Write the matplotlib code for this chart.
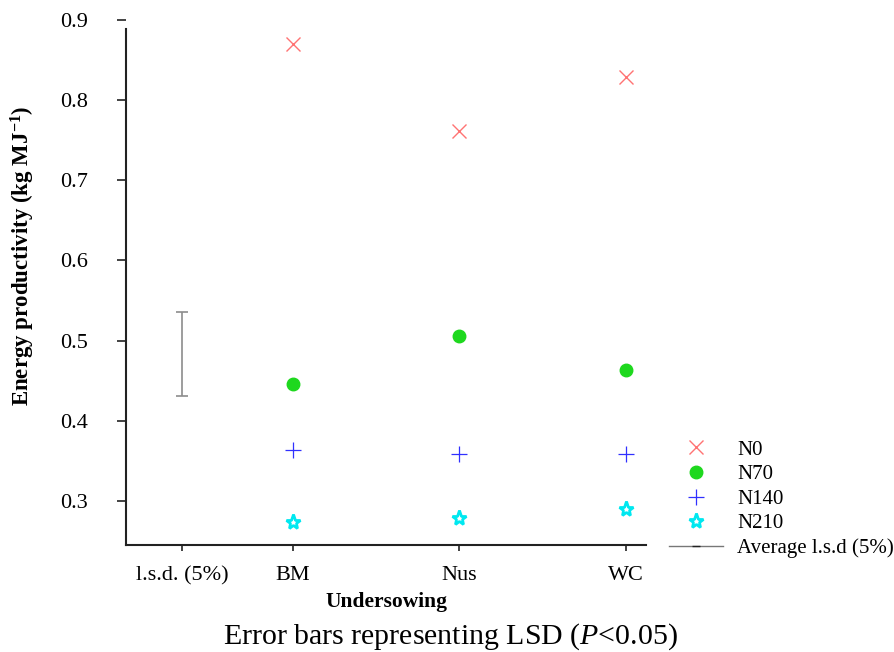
import numpy as np
import matplotlib
matplotlib.use('Agg')
import matplotlib.pyplot as plt
from matplotlib.lines import Line2D

plt.rcParams['font.family'] = ['Liberation Serif', 'DejaVu Serif']
plt.rcParams['mathtext.fontset'] = 'custom'
plt.rcParams['mathtext.rm'] = 'Liberation Serif'
plt.rcParams['mathtext.it'] = 'Liberation Serif:italic'
plt.rcParams['mathtext.bf'] = 'Liberation Serif:bold'

# --- data ---
categories = ['BM', 'Nus', 'WC']
cat_pos = [1, 2, 3]
lsd_pos = 0.335
n0 = [0.870, 0.762, 0.829]
n70 = [0.446, 0.506, 0.463]
n140 = [0.363, 0.359, 0.359]
n210 = [0.274, 0.279, 0.290]
lsd_mean = 0.4835
lsd_half = 0.0525

fig = plt.figure(figsize=(8.95, 6.52), dpi=100)
ax = fig.add_axes([0.1408, 0.1641, 0.5810, 0.8052])

h0, = ax.plot(cat_pos, n0, 'x', color='#ff5a5a', ms=10, mew=1.0, alpha=0.85, ls='none', label='N0')
h70, = ax.plot(cat_pos, n70, 'o', color='#1ed81e', ms=9, ls='none', label='N70')
h140, = ax.plot(cat_pos, n140, '+', color='#3030ff', ms=12, mew=0.9, ls='none', label='N140')
h210, = ax.plot(cat_pos, n210, '*', mfc='white', mec='#00e8f0', mew=2.0, ms=11, ls='none', label='N210')
ax.errorbar([lsd_pos], [lsd_mean], yerr=[lsd_half], fmt='none', ecolor='#8c8c8c',
            elinewidth=1.2, capsize=4, capthick=1.2)

ax.set_xlim(0, 3.12)
ax.set_ylim(0.245, 0.9)
ax.set_yticks([0.3, 0.4, 0.5, 0.6, 0.7, 0.8, 0.9])
ax.set_yticklabels(['0.3', '0.4', '0.5', '0.6', '0.7', '0.8', '0.9'])
ax.set_xticks([lsd_pos] + cat_pos)
ax.set_xticklabels(['l.s.d. (5%)'] + categories)

for s in ['top', 'right']:
    ax.spines[s].set_visible(False)
ax.spines['left'].set_bounds(0.245, 0.889)
for s in ['left', 'bottom']:
    ax.spines[s].set_linewidth(1.5)
    ax.spines[s].set_color('#222222')

ax.tick_params(axis='y', direction='out', length=6.5, width=1.2, colors='#222222',
               labelsize=16, pad=21, labelcolor='black')
ax.tick_params(axis='x', direction='out', length=4, width=1.2, colors='#222222',
               labelsize=16, pad=11, labelcolor='black')

ax.set_ylabel(r'Energy productivity (kg MJ$^{\mathbf{-1}}$)', fontsize=16.5, fontweight='bold')
ax.yaxis.set_label_coords(-0.172, 0.55)
ax.set_xlabel('Undersowing', fontsize=15.5, fontweight='bold', labelpad=5)

fig.text(0.503, 0.0135, r'Error bars representing LSD ($\it{P}$<0.05)', ha='center', va='baseline', fontsize=21.5)

lsd_handle = Line2D([], [], color='#777777', lw=1.0, marker='_', mec='#222222', ms=6)
fig.legend([h0, h70, h140, h210, lsd_handle],
           ['N0', 'N70', 'N140', 'N210', 'Average l.s.d (5%)'],
           loc='upper left', bbox_to_anchor=(0.748, 0.325), frameon=False,
           fontsize=15, handlelength=2.55, handletextpad=0.7, labelspacing=0.24,
           borderpad=0, borderaxespad=0)

fig.savefig('out.png', dpi=100)
